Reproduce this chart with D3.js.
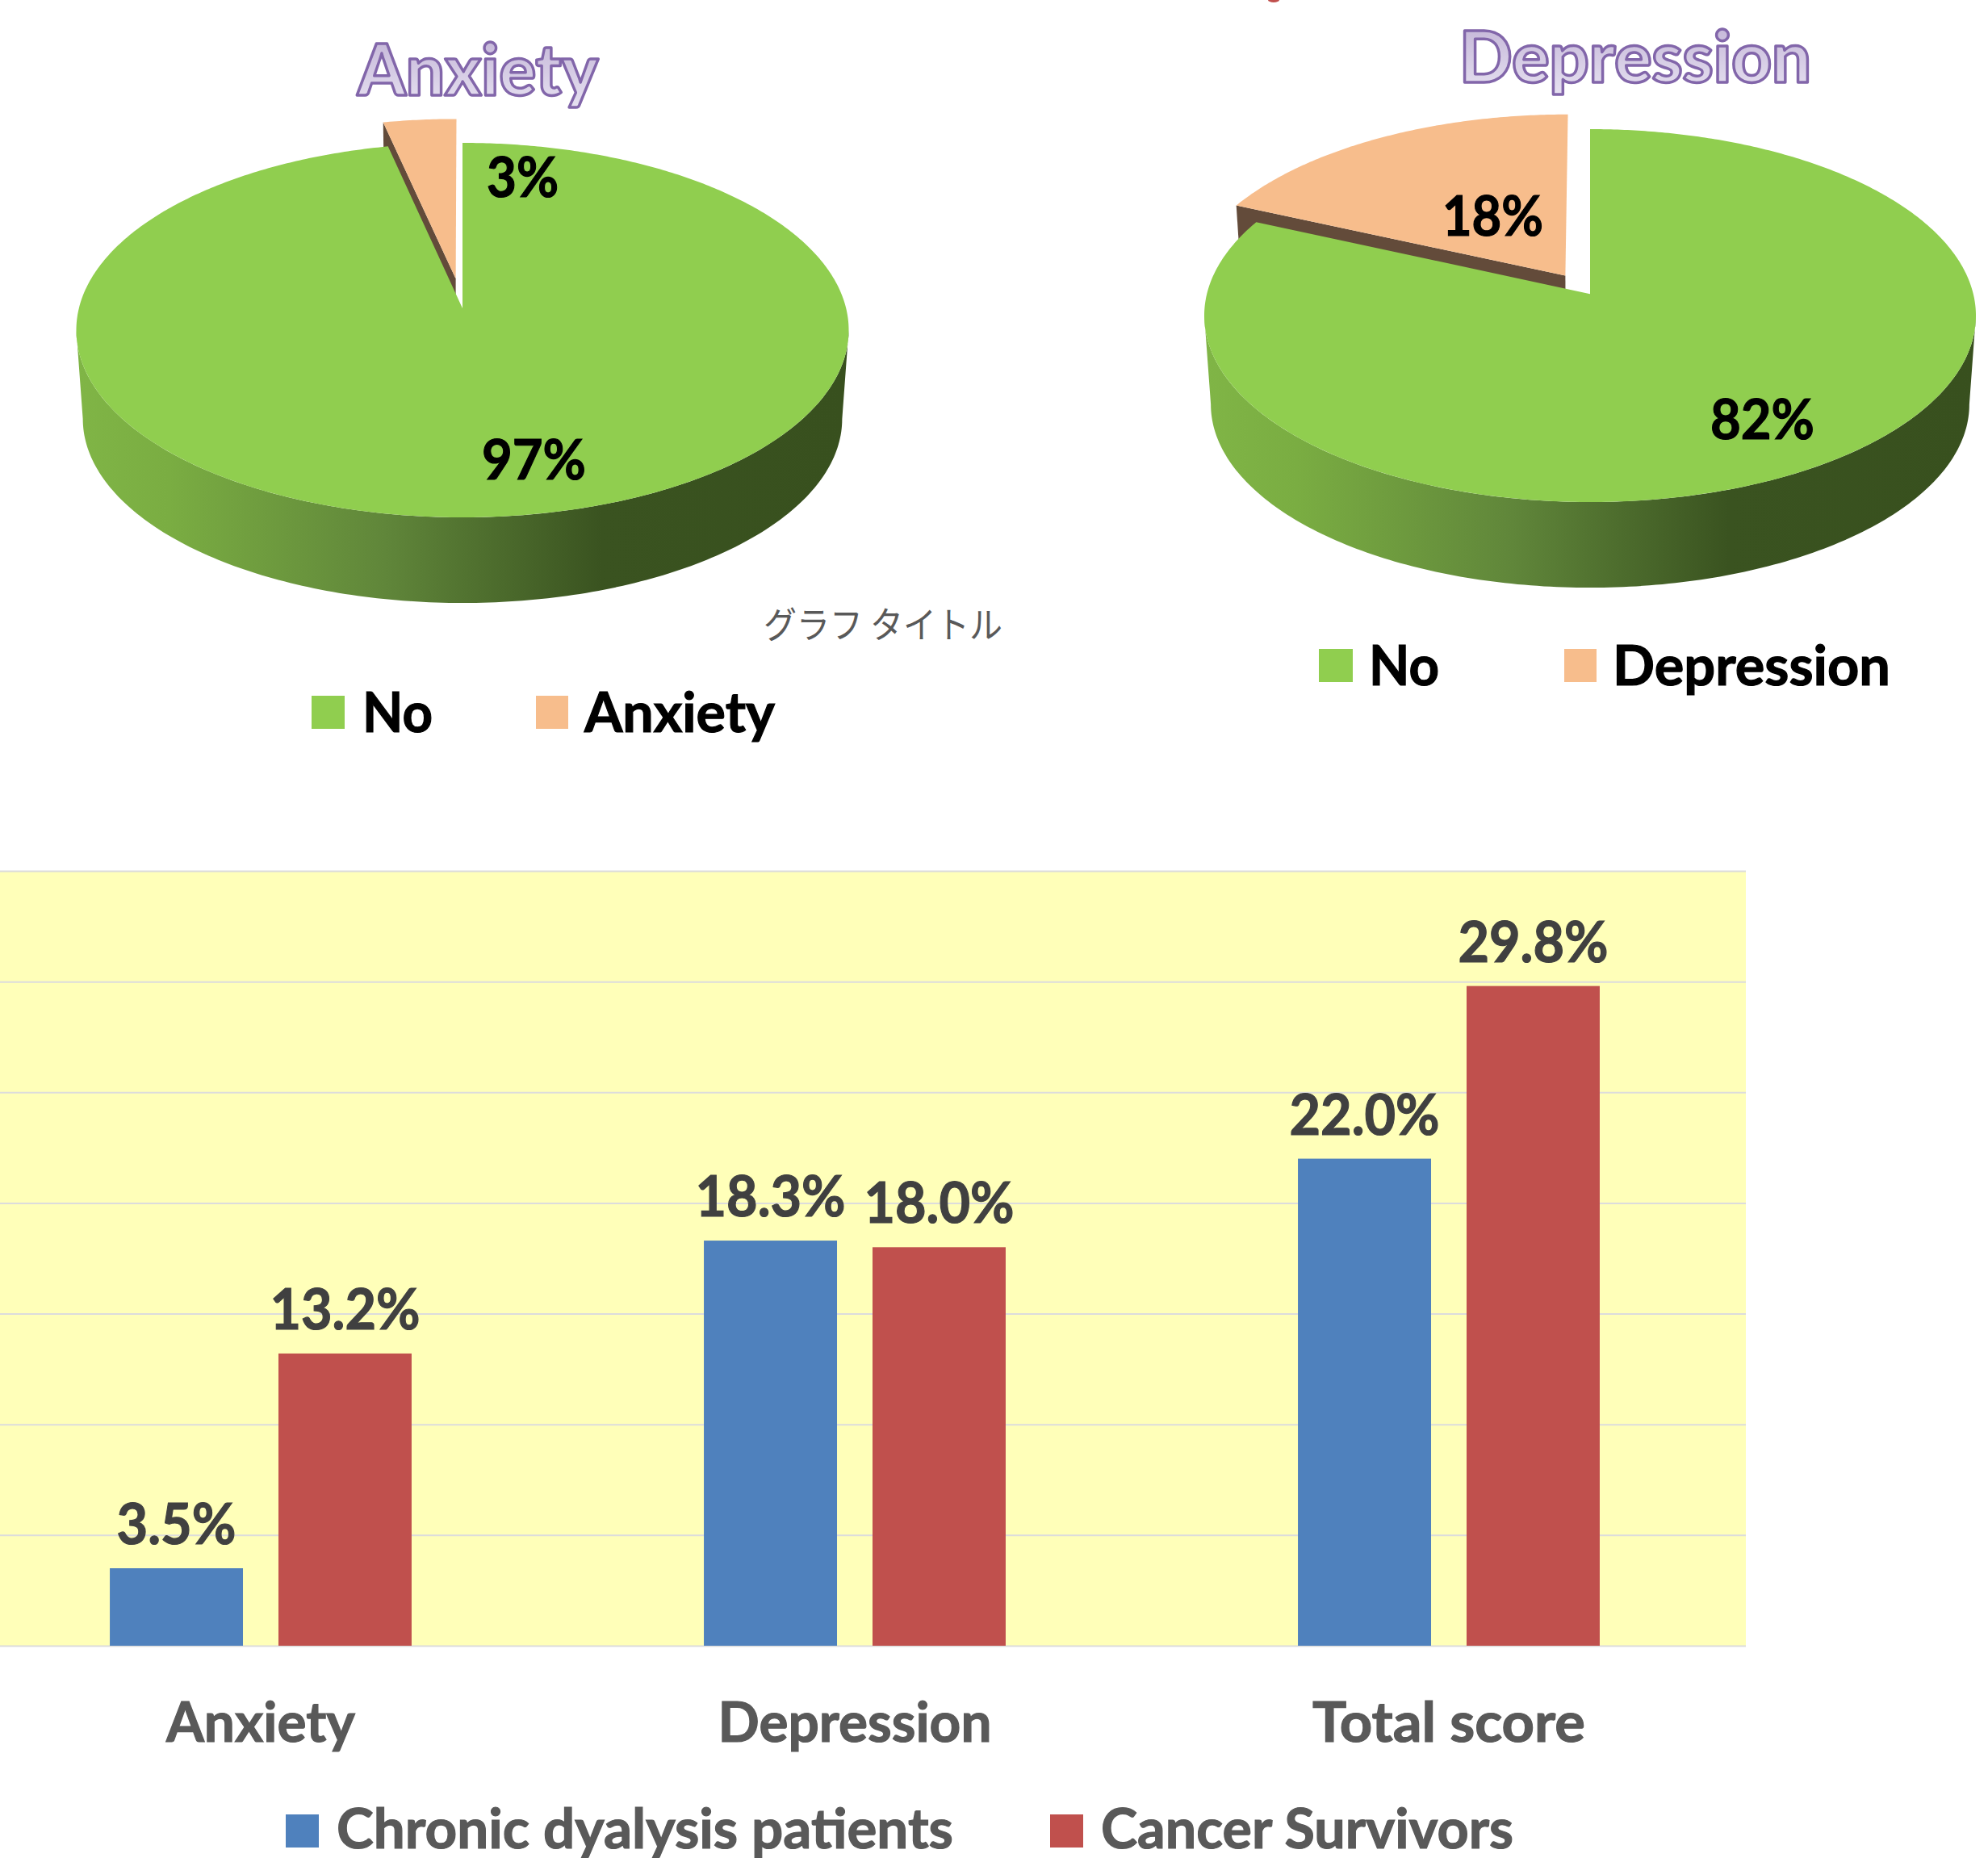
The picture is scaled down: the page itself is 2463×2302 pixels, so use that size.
<!DOCTYPE html>
<html>
<head>
<meta charset="utf-8">
<script src="https://cdn.jsdelivr.net/npm/d3@7"></script>
<style>
  html, body { margin: 0; padding: 0; background: #ffffff; }
  svg { display: block; }
  text { font-family: Lato, "Open Sans", sans-serif; font-weight: 700; }
</style>
</head>
<body>
<svg id="chart" width="2463" height="2302"></svg>
<script>
// Pie data: share of patients, in percent
const anxietyCategories = ["No", "Anxiety"];
const anxietyValues = [96.53, 3.47];
const depressionCategories = ["No", "Depression"];
const depressionValues = [81.7, 18.3];

// Bar data: prevalence by scale, in percent
const barCategories = ["Anxiety", "Depression", "Total score"];
const barSeries = ["Chronic dyalysis patients", "Cancer Survivors"];
const dialysisValues = [3.5, 18.3, 22.0];
const cancerValues = [13.2, 18.0, 29.8];
const axisTicks = [0, 5, 10, 15, 20, 25, 30, 35];

const GREEN = "#90ce4f", PEACH = "#f7bd8c", WALL = "#634b3a";
const BLUE = "#4f81bd", RED = "#c0504d", PLOT_BG = "#ffffb9", GRID = "#dcdcdc";

const svg = d3.select("#chart");
const defs = svg.append("defs");

// Side wall shading, light at the left rim and dark toward the right
const wallGrad = defs.append("linearGradient").attr("id", "wallShade");
[[0, "#80b546"], [0.12, "#7aad42"], [0.4, "#60863a"], [0.68, "#3a5320"], [1, "#38501e"]]
  .forEach(([o, c]) => wallGrad.append("stop").attr("offset", o).attr("stop-color", c));

// Fill of the outlined headline lettering
const titleGrad = defs.append("linearGradient").attr("id", "titleFill")
  .attr("x1", 0).attr("y1", 0).attr("x2", 0).attr("y2", 1);
[[0, "#bfb0d4"], [1, "#e8e3f2"]]
  .forEach(([o, c]) => titleGrad.append("stop").attr("offset", o).attr("stop-color", c));

// Places a text run, fixes its drawn width and thickens the strokes a little
function put(parent, str, x, y, size, fill, width, anchor) {
  const t = parent.append("text")
    .attr("x", x).attr("y", y)
    .attr("font-size", size).attr("fill", fill)
    .attr("stroke", fill).attr("stroke-width", 1.2)
    .attr("text-anchor", anchor || "start")
    .text(str);
  if (width) t.attr("textLength", width).attr("lengthAdjust", "spacingAndGlyphs");
  return t;
}

// Tilted pie: maps unit-disc coordinates through a perspective tilt,
// so the disc centre sits above the centre of the drawn ellipse.
const TILT = 0.1163, WALL_SCALE = 0.983, WALL_DROP = 110;

function drawPie(cfg) {
  const g = svg.append("g");
  const { cx, cy, rx, ry } = cfg;
  const h = ry * (1 - TILT * TILT);
  const w = rx * Math.sqrt(1 - TILT * TILT);
  const apexY = cy + (h / (1 + TILT) - ry);

  const project = ([u, v]) => {
    const d = 1 + TILT * v;
    return [cx + w * u / d, apexY - h * v / d];
  };
  const lower = ([x, y]) => [cx + (x - cx) * WALL_SCALE, cy + (y - cy) * WALL_SCALE + WALL_DROP];
  const line = d3.line();

  const slices = d3.pie().sort(null)(cfg.values);
  const polygon = (s, off) => {
    const n = Math.max(8, Math.ceil((s.endAngle - s.startAngle) / 0.01));
    const pts = [[off[0], off[1]]];
    d3.range(n + 1).forEach(i => {
      const a = s.startAngle + (s.endAngle - s.startAngle) * i / n;
      pts.push([Math.sin(a) + off[0], Math.cos(a) + off[1]]);
    });
    return pts.map(project);
  };

  // Side wall below the main disc
  const samples = d3.range(0, 181).map(i => i * Math.PI / 180);
  const upperRim = samples.map(a => [cx - rx * Math.cos(a), cy + ry * Math.sin(a)]);
  const lowerRim = upperRim.map(lower).reverse();
  g.append("path")
    .attr("d", line(upperRim.concat(lowerRim)) + "Z")
    .attr("fill", "url(#wallShade)");

  const [mainSlice, pulledSlice] = slices;
  const mid = (pulledSlice.startAngle + pulledSlice.endAngle) / 2;
  const off = [Math.sin(mid) * cfg.pull, Math.cos(mid) * cfg.pull];

  // Cut face of the pulled slice, partly hidden by the main disc
  const edgeA = project([off[0], off[1]]);
  const edgeB = project([Math.sin(pulledSlice.startAngle) + off[0], Math.cos(pulledSlice.startAngle) + off[1]]);
  g.append("path")
    .attr("d", line([edgeA, edgeB, lower(edgeB), lower(edgeA)]) + "Z")
    .attr("fill", WALL);

  g.append("path").attr("d", line(polygon(mainSlice, [0, 0])) + "Z").attr("fill", GREEN);
  g.append("path").attr("d", line(polygon(pulledSlice, off)) + "Z").attr("fill", PEACH);

  // Percent labels
  const pct = d3.format(".0f");
  cfg.labels.forEach((l, i) => {
    put(g, pct(cfg.values[i]) + "%", l.x, l.y, 69, "#000000", l.w);
  });

  // Outlined headline
  put(g, cfg.title.text, cfg.title.x, cfg.title.y, cfg.title.size, "url(#titleFill)", cfg.title.w)
    .attr("stroke", "#8266aa").attr("stroke-width", 3.5)
    .attr("stroke-linejoin", "round")
    .style("font-weight", 900);

  // Legend
  cfg.legend.forEach((l, i) => {
    g.append("rect")
      .attr("x", l.sx).attr("y", cfg.legendY)
      .attr("width", l.sw).attr("height", 41)
      .attr("fill", i === 0 ? GREEN : PEACH);
    put(g, cfg.categories[i], l.tx, cfg.legendY + 45, 69, "#000000", l.tw);
  });
}

drawPie({
  cx: 573, cy: 409, rx: 478.5, ry: 232, pull: 0.165,
  values: anxietyValues, categories: anxietyCategories,
  title: { text: "Anxiety", x: 443, y: 118, size: 87, w: 298 },
  labels: [{ x: 597, y: 594, w: 129 }, { x: 603, y: 244, w: 89 }],
  legendY: 862,
  legend: [{ sx: 386, sw: 41, tx: 449, tw: 87 }, { sx: 664, sw: 40, tx: 724, tw: 236 }]
});

drawPie({
  cx: 1970, cy: 391, rx: 478, ry: 231, pull: 0.12,
  values: depressionValues, categories: depressionCategories,
  title: { text: "Depression", x: 1808, y: 102, size: 87, w: 436 },
  labels: [{ x: 2119, y: 544, w: 129 }, { x: 1787, y: 292, w: 125 }],
  legendY: 804,
  legend: [{ sx: 1634, sw: 42, tx: 1696, tw: 87 }, { sx: 1938, sw: 40, tx: 1998, tw: 344 }]
});

// Stray chart caption between the pies
put(svg, "グラフ タイトル", 946, 791, 45, "#595959", 296)
  .attr("stroke-width", 0)
  .style("font-family", '"Noto Sans CJK JP"').style("font-weight", 400);

// Red mark cut off by the top edge
svg.append("ellipse").attr("cx", 1578).attr("cy", 0).attr("rx", 7).attr("ry", 3).attr("fill", RED);

// Grouped bars
const plot = { left: -45, right: 2163, top: 1079, bottom: 2039 };
const x0 = d3.scaleBand().domain(barCategories)
  .range([plot.left, plot.right]).paddingInner(0.492).paddingOuter(0.246);
const x1 = d3.scaleBand().domain(barSeries)
  .range([0, x0.bandwidth()]).paddingInner(0.2105);
const y = d3.scaleLinear().domain([0, 35]).range([plot.bottom, plot.top]);
const seriesColor = d3.scaleOrdinal().domain(barSeries).range([BLUE, RED]);

svg.append("rect")
  .attr("x", 0).attr("y", plot.top)
  .attr("width", plot.right).attr("height", plot.bottom - plot.top)
  .attr("fill", PLOT_BG);

// Gridlines from a value axis whose tick labels are off the canvas
const yAxis = svg.append("g").attr("transform", `translate(${plot.right},0)`)
  .call(d3.axisLeft(y).tickValues(axisTicks).tickSize(plot.right).tickFormat(""));
yAxis.select(".domain").remove();
yAxis.selectAll("line").attr("stroke", GRID).attr("stroke-width", 2);

const seriesValues = [dialysisValues, cancerValues];
const rows = barCategories.flatMap((c, i) =>
  barSeries.map((s, j) => ({ category: c, series: s, value: seriesValues[j][i] })));
const valueLabel = d3.format(".1f");

svg.append("g").selectAll("rect").data(rows).join("rect")
  .attr("x", d => x0(d.category) + x1(d.series))
  .attr("y", d => y(d.value))
  .attr("width", x1.bandwidth())
  .attr("height", d => y(0) - y(d.value))
  .attr("fill", d => seriesColor(d.series));

const barLabels = svg.append("g");
rows.forEach(d => {
  const str = valueLabel(d.value) + "%";
  put(barLabels, str, x0(d.category) + x1(d.series) + x1.bandwidth() / 2, y(d.value) - 30,
      70, "#404040", str.length === 4 ? 148 : 186, "middle");
});

// Category axis
const categoryWidths = [234, 339, 338];
const xAxis = svg.append("g").attr("transform", `translate(0,${plot.bottom})`)
  .call(d3.axisBottom(x0).tickSize(0));
xAxis.select(".domain").remove();
xAxis.selectAll("text")
  .attr("y", 119).attr("dy", 0)
  .attr("font-size", 69).attr("fill", "#595959")
  .attr("stroke", "#595959").attr("stroke-width", 1.2)
  .style("font-family", 'Lato, "Open Sans", sans-serif').style("font-weight", 700)
  .attr("textLength", (d, i) => categoryWidths[i])
  .attr("lengthAdjust", "spacingAndGlyphs");

// Series legend
const legendItems = [
  { sx: 354, tx: 417, tw: 764 },
  { sx: 1301, tx: 1364, tw: 511 }
];
legendItems.forEach((l, i) => {
  svg.append("rect")
    .attr("x", l.sx).attr("y", 2248).attr("width", 41).attr("height", 41)
    .attr("fill", seriesColor(barSeries[i]));
  put(svg, barSeries[i], l.tx, 2290, 68, "#595959", l.tw);
});
</script>
</body>
</html>
